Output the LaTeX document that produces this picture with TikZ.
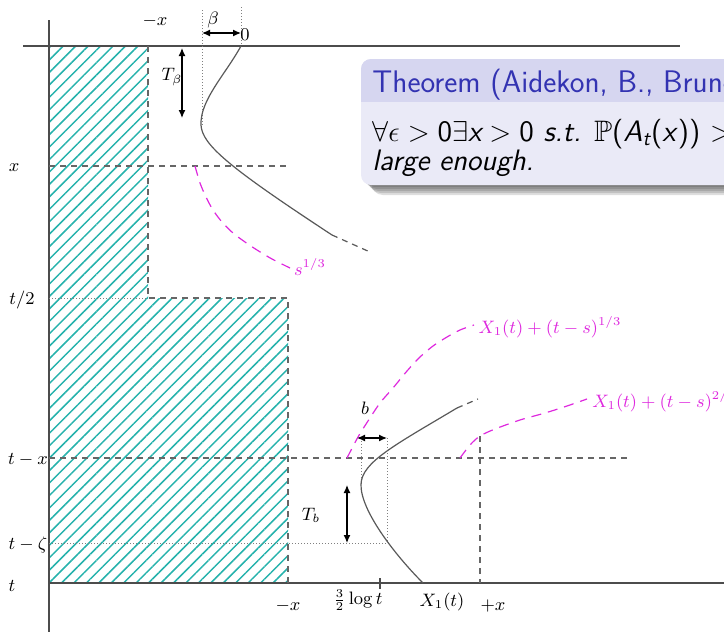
\documentclass[tikz,border=0pt]{standalone}
\usepackage{amsmath,amssymb}
\usepackage{tikz}
\usetikzlibrary{arrows.meta,patterns.meta}
\definecolor{hatchteal}{RGB}{38,178,172}
\definecolor{envmag}{RGB}{222,40,222}
\definecolor{blocktitle}{RGB}{214,214,240}
\definecolor{blockbody}{RGB}{234,234,247}
\definecolor{blockfg}{RGB}{51,51,178}

\begin{document}
\begin{tikzpicture}[font=\small,x=0.5pt,y=-0.5pt,
  axis/.style={black!70,line width=0.6pt},
  guide/.style={black!60,dash pattern=on 3pt off 2.5pt,line width=0.6pt},
  faint/.style={black!50,densely dotted,line width=0.5pt},
  track/.style={black!65,line width=0.6pt},
  envelope/.style={envmag,dash pattern=on 5pt off 3.5pt,line width=0.6pt},
  spanarrow/.style={{Latex[length=4pt,width=3.5pt]}-{Latex[length=4pt,width=3.5pt]},line width=0.6pt},
  blocktext/.style={anchor=base west,inner sep=0pt,font=\sffamily\fontsize{15.6}{16}\selectfont},
  blockbodytext/.style={blocktext,font=\sffamily\itshape\fontsize{14.8}{15}\selectfont}]
\useasboundingbox (0,0) rectangle (724,632);
\clip (0,0) rectangle (724,632);

% forbidden zone
\fill[pattern={Lines[angle=45,distance=4.4pt,line width=0.75pt]},pattern color=hatchteal]
  (49,46) -- (148,46) -- (148,298) -- (288,298) -- (288,583) -- (49,583) -- cycle;

% axes
\draw[axis] (49,20) -- (49,632);
\draw[axis] (23,46) -- (680,46);
\draw[axis] (49,583) -- (724,583);
\draw[axis] (380,578) -- (380,589);

% levels and bounds
\draw[guide] (148,46) -- (148,298) -- (288,298) -- (288,583);
\draw[faint] (49,298) -- (148,298);
\draw[guide] (49,166) -- (290,166);
\draw[guide] (49,458) -- (627,458);
\draw[faint] (49,543) -- (387,543);
\draw[guide] (480,436) -- (480,583);
\draw[faint] (202,10) -- (202,125);
\draw[faint] (241,7) -- (241,46);
\draw[faint] (361,438) -- (361,484);
\draw[faint] (387,438) -- (387,543);

% paths of the particle
\draw[track] (241,46) .. controls (225,75) and (200,100) .. (201,125)
  .. controls (202,145) and (230,168) .. (332,235);
\draw[track,dash pattern=on 3pt off 2.5pt] (332,235) -- (370,252);
\draw[track] (423,583) .. controls (395,555) and (360,510) .. (361,484)
  .. controls (362,462) and (395,445) .. (457,408);
\draw[track,dash pattern=on 3pt off 2.5pt] (457,408) -- (478,399);

% envelopes
\draw[envelope] plot[smooth] coordinates {(195,166) (200,183) (206,197) (213,210)
  (222,222) (233,233) (245,242) (257,250) (272,259) (290,268)};
\draw[envelope] plot[smooth] coordinates {(347,458) (358,437) (368,421) (380,403)
  (393,388) (407,371) (420,357) (433,346) (447,337) (460,330) (474,325)};
\draw[envelope] plot[smooth] coordinates {(460,458) (470,445) (480,436) (495,429)
  (520,420) (545,413) (567,406) (587,399)};

% widths and times
\coordinate (betaL) at (202,33);
\coordinate (betaR) at (241,33);
\coordinate (TbetaT) at (182,48);
\coordinate (TbetaB) at (182,118);
\coordinate (bL) at (357,438);
\coordinate (bR) at (387,438);
\coordinate (TbT) at (347,485);
\coordinate (TbB) at (347,543);
\draw[spanarrow] (betaL) -- (betaR);
\draw[spanarrow] (TbetaT) -- (TbetaB);
\draw[spanarrow] (bL) -- (bR);
\draw[spanarrow] (TbT) -- (TbB);

% labels
\node (lbltopx) at (155,21) {$-x$};
\node (lblbeta) at (213,20) {$\beta$};
\node (lblzero) at (245,35) {$0$};
\node (lblTbeta) at (172,77) {$T_\beta$};
\node (lblx) at (14,168) {$x$};
\node (lblhalf) at (22,300) {$t/2$};
\node (lbltx) at (28,460) {$t-x$};
\node (lbltzeta) at (28,545) {$t-\zeta$};
\node (lblt) at (12,586) {$t$};
\node (lblbotx) at (288,606) {$-x$};
\node (lbllog) at (358,600) {$\frac{3}{2}\log t$};
\node (lblX) at (442,602) {$X_1(t)$};
\node (lblplusx) at (493,606) {$+x$};
\node (lblb) at (365,408) {$b$};
\node (lblTb) at (311,515) {$T_b$};
\node[envmag] (lblcube) at (310,267) {$s^{1/3}$};
\node[envmag] (lblupper) at (550,327) {$X_1(t)+(t-s)^{1/3}$};
\node[envmag,anchor=west,inner sep=0pt] (lbllower) at (592,401) {$X_1(t)+(t-s)^{2/3}$};

% theorem block with a soft shadow
\foreach \d in {1,...,5}
  \fill[black,opacity=0.13,rounded corners=6pt] (361+2*\d,70) rectangle (820,185+2*\d);
\fill[blockbody,rounded corners=5pt] (361,59) rectangle (820,185);
\begin{scope}
\clip (300,40) rectangle (820,101);
\fill[blocktitle,rounded corners=5pt] (361,59) rectangle (820,185);
\end{scope}
\node[blocktext,text=blockfg] (thmtitle) at (372,92) {Theorem (Aidekon, B., Brunet, Shi)};
\node[blockbodytext] (thmline) at (372,141)
  {\textup{$\forall\epsilon>{}$0$\exists$}x${}>{}$\textup{0} s.t. $\mathbb{P}$\textup{(}A\textsubscript{t}\textup{(}x\textup{))} $>$ \textup{1} $-\epsilon$ for t};
\node[blockbodytext] (thmend) at (372,170) {large enough.};
\end{tikzpicture}
\end{document}
